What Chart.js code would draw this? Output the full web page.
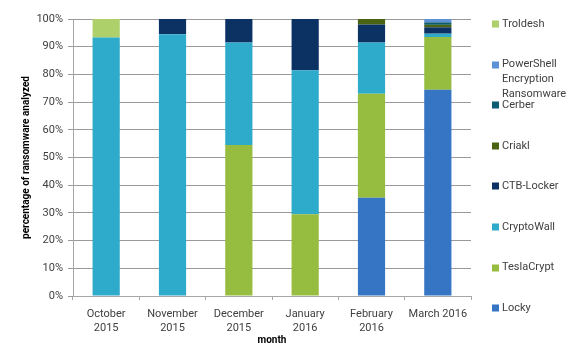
<!DOCTYPE html>
<html>
<head>
<meta charset="utf-8">
<script src="https://cdn.jsdelivr.net/npm/chart.js@4/dist/chart.umd.min.js"></script>
<style>
html,body{margin:0;padding:0;background:#fff;}
#wrap{width:579px;height:360px;}
</style>
</head>
<body>
<div id="wrap"><canvas id="c" width="579" height="360"></canvas></div>
<script>
const categories = [["October","2015"],["November","2015"],["December","2015"],["January","2016"],["February","2016"],"March 2016"];
const locky      = [0, 0, 0, 0, 35.5, 74.5];
const teslaCrypt = [0, 0, 54.5, 29.5, 37.5, 19];
const cryptoWall = [93.3, 94.5, 37, 52, 18.5, 1.2];
const ctbLocker  = [0, 5.5, 8.5, 18.5, 6.5, 2.3];
const criakl     = [0, 0, 0, 0, 2, 0.9];
const cerber     = [0, 0, 0, 0, 0, 0.9];
const powerShell = [0, 0, 0, 0, 0, 1.2];
const troldesh   = [6.7, 0, 0, 0, 0, 0];
const yTicks = [0,10,20,30,40,50,60,70,80,90,100];

const FONT = 'Roboto, "Liberation Sans", sans-serif';
const TXT = '#404040';

const datasets = [
  {label:'Locky', data:locky, backgroundColor:'#3575c3'},
  {label:'TeslaCrypt', data:teslaCrypt, backgroundColor:'#97bd40'},
  {label:'CryptoWall', data:cryptoWall, backgroundColor:'#2eaacb'},
  {label:'CTB-Locker', data:ctbLocker, backgroundColor:'#0c3163'},
  {label:'Criakl', data:criakl, backgroundColor:'#4a6312'},
  {label:'Cerber', data:cerber, backgroundColor:'#0f5d73'},
  {label:['PowerShell','Encryption','Ransomware'], data:powerShell, backgroundColor:'#5e92d6'},
  {label:'Troldesh', data:troldesh, backgroundColor:'#aed06a'}
].map(d => Object.assign(d, {borderWidth:0, barPercentage:0.41, categoryPercentage:1}));

const legendPlugin = {
  id:'sideLegend',
  afterDraw(chart){
    const ctx = chart.ctx;
    ctx.save();
    ctx.font = '11px ' + FONT;
    ctx.textBaseline = 'middle';
    ctx.textAlign = 'left';
    const ds = chart.data.datasets.slice().reverse();
    ds.forEach((d, i) => {
      const y = 24 + i * 40.6;
      ctx.fillStyle = d.backgroundColor;
      ctx.fillRect(492, Math.round(y) - 3.5, 7, 7);
      ctx.fillStyle = TXT;
      const lines = Array.isArray(d.label) ? d.label : [d.label];
      lines.forEach((t, k) => ctx.fillText(t, 502, y + k * 15));
    });
    ctx.restore();
  }
};

new Chart(document.getElementById('c'), {
  type:'bar',
  data:{labels:categories, datasets:datasets},
  plugins:[legendPlugin],
  options:{
    responsive:false,
    animation:false,
    devicePixelRatio:1,
    layout:{padding:{top:19, right:108, left:0, bottom:0}},
    plugins:{legend:{display:false}, tooltip:{enabled:false}},
    scales:{
      x:{
        stacked:true,
        grid:{display:true, drawOnChartArea:false, drawTicks:true, tickLength:4, color:'#a6a6a6', offset:true},
        border:{color:'#a6a6a6'},
        ticks:{font:{family:FONT, size:11}, color:TXT, padding:8, maxRotation:0, autoSkip:false},
        title:{display:true, text:'month', font:{family:FONT, size:10, weight:'bold'}, color:'#000', padding:{top:0,bottom:14}},
        afterFit(s){ s.height = 64; }
      },
      y:{
        stacked:true,
        min:0, max:100,
        afterBuildTicks(s){ s.ticks = yTicks.map(v => ({value:v})); },
        grid:{color:'#999', tickLength:5},
        border:{color:'#a6a6a6'},
        ticks:{font:{family:FONT, size:11}, color:TXT, padding:5, callback:v => v + '%'},
        title:{display:true, text:'percentage of ransomware analyzed', font:{family:FONT, size:10, weight:'bold'}, color:'#000', padding:{top:20,bottom:0}},
        afterFit(s){ s.width = 73; }
      }
    }
  }
});
</script>
</body>
</html>
